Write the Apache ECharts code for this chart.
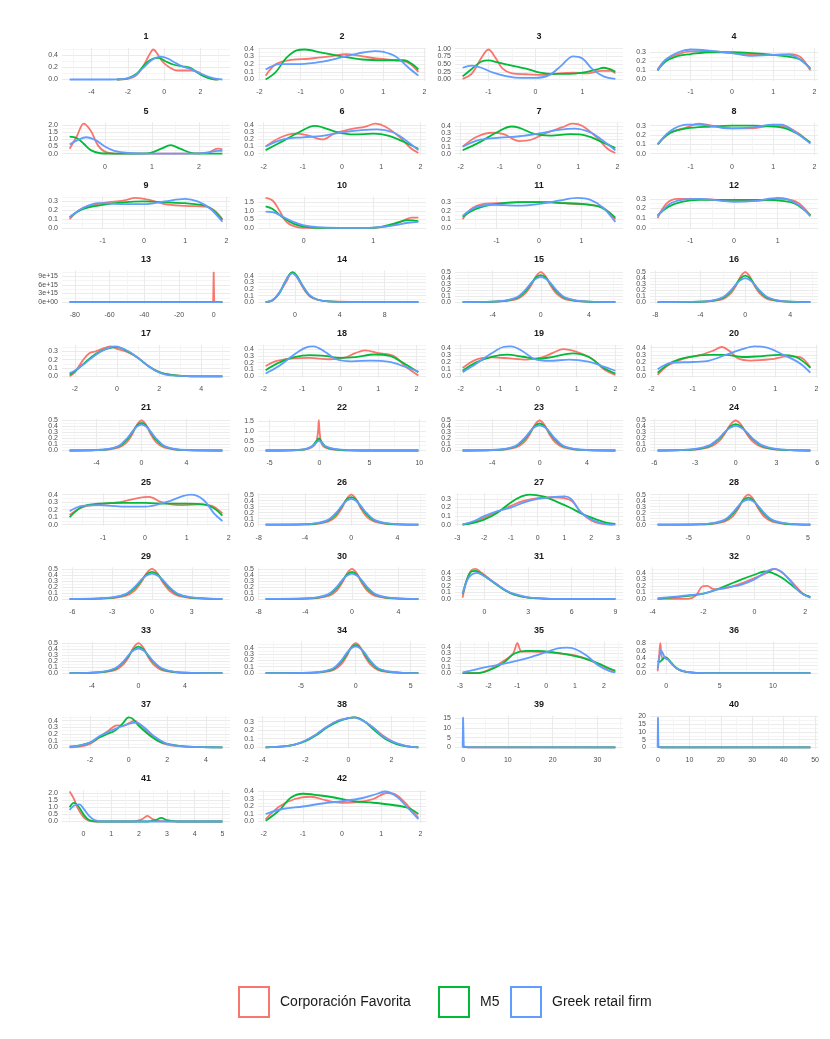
<!DOCTYPE html>
<html>
<head>
<meta charset="utf-8">
<script src="https://cdn.jsdelivr.net/npm/echarts@6/dist/echarts.min.js"></script>
<style>
html, body { margin: 0; background: #fff; }
#chart { width: 830px; height: 1039px; }
</style>
</head>
<body>
<div id="chart"></div>
<script>
const seriesNames = ['Corporación Favorita', 'M5', 'Greek retail firm']
const seriesColors = ['#F8766D', '#00BA38', '#619CFF']

const panelIds = ['1', '2', '3', '4', '5', '6', '7', '8', '9', '10', '11', '12', '13', '14',
  '15', '16', '17', '18', '19', '20', '21', '22', '23', '24', '25', '26', '27', '28',
  '29', '30', '31', '32', '33', '34', '35', '36', '37', '38', '39', '40', '41', '42']

const xLabels = [
  ['-4', '-2', '0', '2'], ['-2', '-1', '0', '1', '2'], ['-1', '0', '1'], ['-1', '0', '1', '2'],
  ['0', '1', '2'], ['-2', '-1', '0', '1', '2'], ['-2', '-1', '0', '1', '2'], ['-1', '0', '1', '2'],
  ['-1', '0', '1', '2'], ['0', '1'], ['-1', '0', '1'], ['-1', '0', '1'],
  ['-80', '-60', '-40', '-20', '0'], ['0', '4', '8'], ['-4', '0', '4'], ['-8', '-4', '0', '4'],
  ['-2', '0', '2', '4'], ['-2', '-1', '0', '1', '2'], ['-2', '-1', '0', '1', '2'], ['-2', '-1', '0', '1', '2'],
  ['-4', '0', '4', '8'], ['-5', '0', '5', '10'], ['-4', '0', '4'], ['-6', '-3', '0', '3', '6'],
  ['-1', '0', '1', '2'], ['-8', '-4', '0', '4'], ['-3', '-2', '-1', '0', '1', '2', '3'], ['-5', '0', '5'],
  ['-6', '-3', '0', '3'], ['-8', '-4', '0', '4'], ['0', '3', '6', '9'], ['-4', '-2', '0', '2'],
  ['-4', '0', '4'], ['-5', '0', '5'], ['-3', '-2', '-1', '0', '1', '2'], ['0', '5', '10'],
  ['-2', '0', '2', '4'], ['-4', '-2', '0', '2'], ['0', '10', '20', '30'], ['0', '10', '20', '30', '40', '50'],
  ['0', '1', '2', '3', '4', '5'], ['-2', '-1', '0', '1', '2']
]

const y03 = ['0.0', '0.1', '0.2', '0.3']
const y04 = ['0.0', '0.1', '0.2', '0.3', '0.4']
const y05 = ['0.0', '0.1', '0.2', '0.3', '0.4', '0.5']
const yLabels = [
  ['0.0', '0.2', '0.4'], y04, ['0.00', '0.25', '0.50', '0.75', '1.00'], y03,
  ['0.0', '0.5', '1.0', '1.5', '2.0'], y04, y04, y03,
  y03, ['0.0', '0.5', '1.0', '1.5'], y03, y03,
  ['0e+00', '3e+15', '6e+15', '9e+15'], y04, y05, y05,
  y03, y04, y04, y04,
  y05, ['0.0', '0.5', '1.0', '1.5'], y05, y05,
  y04, y05, y03, y05,
  y05, y05, y04, y04,
  y05, y04, y04, ['0.0', '0.2', '0.4', '0.6', '0.8'],
  y04, y03, ['0', '5', '10', '15'], ['0', '5', '10', '15', '20'],
  ['0.0', '0.5', '1.0', '1.5', '2.0'], y04
]

// density curves, one entry per panel
const favorita = [
  [[-2.6, 0], [-2, 0.01], [-1.5, 0.08], [-1.1, 0.25], [-0.8, 0.42], [-0.6, 0.5], [-0.4, 0.44], [-0.1, 0.3], [0.3, 0.2], [0.7, 0.15], [1.1, 0.15], [1.5, 0.15], [1.9, 0.12], [2.2, 0.06], [2.6, 0.01], [2.9, 0]],
  [[-1.85, 0.05], [-1.6, 0.2], [-1.3, 0.25], [-0.8, 0.27], [-0.3, 0.3], [0.1, 0.33], [0.5, 0.3], [0.9, 0.27], [1.3, 0.25], [1.6, 0.22], [1.85, 0.1]],
  [[-1.55, 0.02], [-1.35, 0.2], [-1.15, 0.7], [-1.0, 0.97], [-0.85, 0.7], [-0.7, 0.35], [-0.5, 0.2], [-0.2, 0.17], [0.2, 0.15], [0.5, 0.2], [0.8, 0.22], [1.1, 0.2], [1.4, 0.28], [1.6, 0.28], [1.7, 0.2]],
  [[-1.8, 0.11], [-1.6, 0.22], [-1.3, 0.28], [-1, 0.31], [-0.5, 0.31], [0, 0.29], [0.5, 0.27], [1, 0.27], [1.4, 0.28], [1.65, 0.25], [1.9, 0.1]],
  [[-0.75, 0.35], [-0.6, 1.2], [-0.45, 2.1], [-0.3, 1.6], [-0.15, 0.6], [0, 0.15], [0.3, 0], [1, 0], [1.8, 0], [2.2, 0.1], [2.4, 0.35], [2.5, 0.3]],
  [[-1.95, 0.1], [-1.6, 0.22], [-1.2, 0.28], [-0.9, 0.26], [-0.5, 0.2], [-0.2, 0.28], [0.2, 0.34], [0.6, 0.38], [0.85, 0.42], [1.1, 0.38], [1.5, 0.22], [1.75, 0.08], [1.95, 0.01]],
  [[-1.95, 0.1], [-1.6, 0.24], [-1.2, 0.3], [-0.9, 0.28], [-0.5, 0.18], [-0.2, 0.2], [0.2, 0.3], [0.6, 0.38], [0.85, 0.43], [1.1, 0.4], [1.5, 0.22], [1.75, 0.07], [1.95, 0.01]],
  [[-1.8, 0.1], [-1.5, 0.22], [-1.1, 0.28], [-0.8, 0.32], [-0.5, 0.3], [0, 0.27], [0.5, 0.27], [1, 0.3], [1.3, 0.29], [1.6, 0.22], [1.9, 0.11]],
  [[-1.8, 0.1], [-1.5, 0.22], [-1, 0.28], [-0.5, 0.31], [-0.2, 0.34], [0.1, 0.32], [0.5, 0.27], [1, 0.25], [1.5, 0.24], [1.7, 0.2], [1.9, 0.1]],
  [[-0.55, 1.75], [-0.45, 1.6], [-0.35, 1.0], [-0.25, 0.35], [-0.1, 0.05], [0.1, 0], [0.8, 0], [1.1, 0.03], [1.3, 0.2], [1.45, 0.45], [1.55, 0.6], [1.65, 0.6]],
  [[-1.8, 0.1], [-1.6, 0.22], [-1.3, 0.28], [-0.8, 0.29], [-0.3, 0.3], [0.3, 0.3], [0.8, 0.28], [1.2, 0.27], [1.5, 0.24], [1.8, 0.1]],
  [[-1.75, 0.1], [-1.55, 0.25], [-1.3, 0.3], [-0.9, 0.3], [-0.4, 0.29], [0, 0.28], [0.5, 0.28], [1, 0.3], [1.3, 0.29], [1.5, 0.25], [1.75, 0.13]],
  [[-83, 0], [-0.3, 0], [0, 1.05e16], [0.3, 0], [5, 0]],
  [[-2.6, 0], [-2, 0.02], [-1.5, 0.12], [-1.1, 0.22], [-0.7, 0.33], [-0.3, 0.45], [0, 0.43], [0.4, 0.32], [1, 0.15], [1.6, 0.06], [2.5, 0.02], [4, 0.005], [6, 0], [11, 0]],
  [[-6.5, 0], [-4, 0.005], [-3, 0.015], [-2, 0.05], [-1.3, 0.14], [-0.8, 0.28], [-0.4, 0.43], [0, 0.5], [0.4, 0.43], [0.8, 0.28], [1.3, 0.14], [2, 0.05], [3, 0.015], [4, 0.005], [6.2, 0]],
  [[-7.8, 0], [-4, 0.005], [-3, 0.015], [-2, 0.05], [-1.3, 0.14], [-0.8, 0.28], [-0.4, 0.43], [0, 0.5], [0.4, 0.43], [0.8, 0.28], [1.3, 0.14], [2, 0.05], [3, 0.015], [4, 0.005], [5.8, 0]],
  [[-2.25, 0], [-2, 0.05], [-1.6, 0.2], [-1.3, 0.28], [-1, 0.3], [-0.6, 0.34], [-0.3, 0.36], [0, 0.33], [0.5, 0.29], [1, 0.22], [1.5, 0.12], [2, 0.05], [2.5, 0.02], [3.5, 0], [5, 0]],
  [[-1.95, 0.15], [-1.7, 0.22], [-1.3, 0.26], [-0.8, 0.27], [-0.3, 0.25], [0.1, 0.27], [0.4, 0.34], [0.65, 0.38], [1, 0.34], [1.4, 0.3], [1.7, 0.15], [2.05, 0.01]],
  [[-1.95, 0.12], [-1.6, 0.24], [-1.2, 0.27], [-0.8, 0.26], [-0.3, 0.24], [0.1, 0.27], [0.4, 0.34], [0.65, 0.39], [1, 0.35], [1.4, 0.25], [1.7, 0.1], [2.0, 0.02]],
  [[-1.85, 0.02], [-1.6, 0.15], [-1.2, 0.25], [-0.8, 0.3], [-0.5, 0.36], [-0.3, 0.41], [-0.1, 0.35], [0.1, 0.25], [0.4, 0.22], [0.9, 0.24], [1.3, 0.28], [1.6, 0.27], [1.85, 0.12]],
  [[-6.4, 0], [-4, 0.005], [-3, 0.015], [-2, 0.05], [-1.3, 0.14], [-0.8, 0.28], [-0.4, 0.43], [0, 0.5], [0.4, 0.43], [0.8, 0.28], [1.3, 0.14], [2, 0.05], [3, 0.015], [4, 0.005], [7.2, 0]],
  [[-5.4, 0], [-3, 0.01], [-1.5, 0.05], [-0.8, 0.15], [-0.35, 0.4], [-0.15, 1.0], [-0.08, 1.55], [0, 1.0], [0.2, 0.35], [0.6, 0.15], [1.5, 0.05], [3, 0.01], [6, 0], [9.9, 0]],
  [[-6.5, 0], [-4, 0.005], [-3, 0.015], [-2, 0.05], [-1.3, 0.14], [-0.8, 0.28], [-0.4, 0.43], [0, 0.5], [0.4, 0.43], [0.8, 0.28], [1.3, 0.14], [2, 0.05], [3, 0.015], [4, 0.005], [6.4, 0]],
  [[-5.75, 0], [-4, 0.005], [-3, 0.015], [-2, 0.05], [-1.3, 0.14], [-0.8, 0.28], [-0.4, 0.43], [0, 0.5], [0.4, 0.43], [0.8, 0.28], [1.3, 0.14], [2, 0.05], [3, 0.015], [4, 0.005], [5.5, 0]],
  [[-1.8, 0.13], [-1.5, 0.23], [-1.1, 0.27], [-0.6, 0.3], [-0.2, 0.35], [0.1, 0.37], [0.4, 0.3], [0.8, 0.26], [1.3, 0.27], [1.6, 0.25], [1.85, 0.15]],
  [[-7.4, 0], [-4, 0.005], [-3, 0.015], [-2, 0.05], [-1.3, 0.14], [-0.8, 0.28], [-0.4, 0.43], [0, 0.5], [0.4, 0.43], [0.8, 0.28], [1.3, 0.14], [2, 0.05], [3, 0.015], [4, 0.005], [5.8, 0]],
  [[-2.8, 0], [-2.4, 0.03], [-2, 0.08], [-1.5, 0.15], [-1, 0.22], [-0.5, 0.28], [0, 0.31], [0.5, 0.32], [1, 0.31], [1.3, 0.27], [1.6, 0.15], [2, 0.05], [2.4, 0.01], [2.8, 0]],
  [[-7.6, 0], [-4, 0.005], [-3, 0.015], [-2, 0.05], [-1.3, 0.14], [-0.8, 0.28], [-0.4, 0.43], [0, 0.5], [0.4, 0.43], [0.8, 0.28], [1.3, 0.14], [2, 0.05], [3, 0.015], [4, 0.005], [5.2, 0]],
  [[-6.2, 0], [-4, 0.005], [-3, 0.015], [-2, 0.05], [-1.3, 0.14], [-0.8, 0.28], [-0.4, 0.43], [0, 0.5], [0.4, 0.43], [0.8, 0.28], [1.3, 0.14], [2, 0.05], [3, 0.015], [4, 0.005], [5.3, 0]],
  [[-7.4, 0], [-4, 0.005], [-3, 0.015], [-2, 0.05], [-1.3, 0.14], [-0.8, 0.28], [-0.4, 0.43], [0, 0.5], [0.4, 0.43], [0.8, 0.28], [1.3, 0.14], [2, 0.05], [3, 0.015], [4, 0.005], [5.7, 0]],
  [[-1.5, 0.02], [-1.2, 0.3], [-0.9, 0.44], [-0.6, 0.46], [-0.2, 0.4], [0.5, 0.28], [1, 0.2], [1.5, 0.12], [2, 0.07], [3, 0.02], [4, 0.005], [5, 0], [9, 0]],
  [[-3.8, 0], [-2.6, 0], [-2.3, 0.05], [-2.05, 0.19], [-1.85, 0.2], [-1.6, 0.15], [-1.2, 0.16], [-0.8, 0.2], [-0.3, 0.27], [0.2, 0.35], [0.5, 0.4], [0.8, 0.46], [1.1, 0.4], [1.5, 0.25], [1.9, 0.08], [2.2, 0.02]],
  [[-5.9, 0], [-4, 0.005], [-3, 0.015], [-2, 0.05], [-1.3, 0.14], [-0.8, 0.28], [-0.4, 0.43], [0, 0.5], [0.4, 0.43], [0.8, 0.28], [1.3, 0.14], [2, 0.05], [3, 0.015], [4, 0.005], [7.2, 0]],
  [[-8.2, 0], [-4, 0.005], [-3, 0.015], [-2, 0.05], [-1.3, 0.14], [-0.8, 0.27], [-0.4, 0.41], [0, 0.47], [0.4, 0.41], [0.8, 0.27], [1.3, 0.14], [2, 0.05], [3, 0.015], [4, 0.005], [5.7, 0]],
  [[-2.9, 0], [-2.4, 0], [-2, 0.05], [-1.5, 0.18], [-1.15, 0.3], [-1.0, 0.46], [-0.85, 0.33], [-0.5, 0.33], [0, 0.32], [0.5, 0.3], [1, 0.27], [1.5, 0.2], [2, 0.1], [2.4, 0.02]],
  [[-0.8, 0.05], [-0.65, 0.5], [-0.55, 0.8], [-0.45, 0.5], [-0.3, 0.38], [-0.1, 0.42], [0.1, 0.4], [0.5, 0.25], [1, 0.12], [1.5, 0.05], [2.5, 0.01], [4, 0], [13.5, 0]],
  [[-3.05, 0], [-2.5, 0.01], [-2, 0.05], [-1.5, 0.15], [-1, 0.26], [-0.6, 0.33], [-0.3, 0.32], [0, 0.36], [0.3, 0.4], [0.6, 0.33], [1, 0.22], [1.5, 0.1], [2, 0.04], [3, 0.01], [4.85, 0]],
  [[-3.85, 0], [-3, 0.01], [-2.5, 0.03], [-2, 0.08], [-1.5, 0.15], [-1, 0.24], [-0.5, 0.31], [0, 0.34], [0.3, 0.35], [0.7, 0.31], [1.2, 0.22], [1.7, 0.12], [2.2, 0.05], [2.7, 0.015], [3.25, 0]],
  [[-0.1, 0.3], [0, 1.0], [0.2, 0.3], [1, 0], [34, 0]],
  [[-0.1, 0.3], [0, 1.0], [0.3, 0.2], [1, 0], [48.5, 0]],
  [[-0.5, 2.1], [-0.35, 1.6], [-0.2, 0.9], [0, 0.3], [0.2, 0.05], [0.5, 0], [1.8, 0], [2.1, 0.15], [2.3, 0.4], [2.5, 0.15], [2.8, 0.02], [3.5, 0], [5, 0]],
  [[-1.95, 0.03], [-1.6, 0.2], [-1.2, 0.3], [-0.8, 0.33], [-0.4, 0.28], [0, 0.25], [0.4, 0.26], [0.8, 0.3], [1.15, 0.38], [1.4, 0.35], [1.7, 0.2], [1.95, 0.05]]
]

const m5 = [
  [[-2.6, 0], [-2, 0.02], [-1.5, 0.1], [-1, 0.27], [-0.6, 0.35], [-0.3, 0.36], [0.1, 0.3], [0.5, 0.25], [1.0, 0.22], [1.4, 0.2], [1.8, 0.12], [2.2, 0.05], [2.6, 0.01], [3.0, 0]],
  [[-1.85, 0.0], [-1.6, 0.1], [-1.35, 0.28], [-1.1, 0.38], [-0.9, 0.39], [-0.5, 0.35], [0, 0.3], [0.5, 0.26], [1.0, 0.25], [1.5, 0.25], [1.7, 0.2], [1.85, 0.13]],
  [[-1.55, 0.1], [-1.35, 0.35], [-1.15, 0.58], [-1.0, 0.62], [-0.8, 0.55], [-0.5, 0.45], [-0.2, 0.35], [0.1, 0.22], [0.4, 0.18], [0.7, 0.18], [1.0, 0.22], [1.3, 0.32], [1.45, 0.38], [1.6, 0.33], [1.7, 0.25]],
  [[-1.8, 0.1], [-1.6, 0.2], [-1.3, 0.26], [-1, 0.28], [-0.5, 0.3], [0, 0.3], [0.5, 0.29], [1, 0.27], [1.4, 0.25], [1.65, 0.22], [1.9, 0.12]],
  [[-0.75, 1.2], [-0.6, 1.1], [-0.45, 0.7], [-0.3, 0.25], [-0.1, 0.03], [0.3, 0], [0.9, 0.02], [1.2, 0.35], [1.4, 0.6], [1.6, 0.35], [1.9, 0.02], [2.2, 0], [2.5, 0]],
  [[-1.95, 0.05], [-1.5, 0.18], [-1.1, 0.3], [-0.7, 0.39], [-0.5, 0.37], [-0.1, 0.3], [0.3, 0.27], [0.8, 0.28], [1.2, 0.25], [1.6, 0.16], [1.95, 0.07]],
  [[-1.95, 0.05], [-1.5, 0.17], [-1.1, 0.3], [-0.7, 0.39], [-0.5, 0.37], [-0.1, 0.28], [0.3, 0.26], [0.8, 0.28], [1.2, 0.26], [1.6, 0.17], [1.95, 0.08]],
  [[-1.8, 0.1], [-1.5, 0.22], [-1.1, 0.27], [-0.5, 0.29], [0, 0.3], [0.5, 0.3], [1, 0.29], [1.3, 0.27], [1.6, 0.21], [1.9, 0.12]],
  [[-1.8, 0.12], [-1.5, 0.21], [-1, 0.26], [-0.5, 0.29], [0, 0.3], [0.5, 0.29], [1, 0.28], [1.5, 0.25], [1.7, 0.19], [1.9, 0.09]],
  [[-0.55, 1.25], [-0.45, 1.1], [-0.3, 0.6], [-0.15, 0.25], [0, 0.08], [0.2, 0], [0.9, 0], [1.1, 0.05], [1.3, 0.25], [1.5, 0.45], [1.65, 0.4]],
  [[-1.8, 0.13], [-1.5, 0.22], [-1, 0.28], [-0.5, 0.3], [0, 0.3], [0.5, 0.29], [1, 0.28], [1.4, 0.25], [1.6, 0.2], [1.8, 0.12]],
  [[-1.75, 0.13], [-1.5, 0.22], [-1.2, 0.27], [-0.8, 0.29], [-0.3, 0.29], [0.2, 0.29], [0.7, 0.29], [1.1, 0.28], [1.4, 0.25], [1.75, 0.13]],
  [[-83, 0], [5, 0]],
  [[-2.6, 0], [-2, 0.03], [-1.4, 0.13], [-0.9, 0.3], [-0.5, 0.42], [-0.2, 0.46], [0.2, 0.4], [0.7, 0.25], [1.3, 0.1], [2, 0.04], [3, 0.01], [5, 0], [11, 0]],
  [[-6.5, 0], [-4, 0.006], [-3, 0.02], [-2, 0.07], [-1.3, 0.18], [-0.8, 0.31], [-0.4, 0.41], [0, 0.45], [0.4, 0.41], [0.8, 0.31], [1.3, 0.18], [2, 0.07], [3, 0.02], [4, 0.006], [6.2, 0]],
  [[-7.8, 0], [-4, 0.006], [-3, 0.02], [-2, 0.07], [-1.3, 0.18], [-0.8, 0.3], [-0.4, 0.4], [0, 0.44], [0.4, 0.4], [0.8, 0.3], [1.3, 0.18], [2, 0.07], [3, 0.02], [4, 0.006], [5.8, 0]],
  [[-2.25, 0.02], [-2, 0.06], [-1.5, 0.17], [-1, 0.27], [-0.5, 0.33], [0, 0.35], [0.5, 0.3], [1, 0.22], [1.5, 0.12], [2, 0.05], [2.5, 0.02], [3.5, 0], [5, 0]],
  [[-1.95, 0.09], [-1.6, 0.2], [-1.2, 0.28], [-0.8, 0.31], [-0.4, 0.3], [0, 0.27], [0.4, 0.28], [0.9, 0.32], [1.3, 0.3], [1.7, 0.18], [2.05, 0.06]],
  [[-1.95, 0.08], [-1.6, 0.2], [-1.2, 0.28], [-0.8, 0.31], [-0.4, 0.28], [0, 0.25], [0.4, 0.28], [0.9, 0.33], [1.3, 0.28], [1.7, 0.12], [2.0, 0.04]],
  [[-1.85, 0.05], [-1.5, 0.2], [-1.1, 0.27], [-0.6, 0.3], [-0.2, 0.3], [0.2, 0.27], [0.6, 0.28], [1.1, 0.3], [1.5, 0.27], [1.85, 0.12]],
  [[-6.4, 0], [-4, 0.006], [-3, 0.02], [-2, 0.07], [-1.3, 0.18], [-0.8, 0.31], [-0.4, 0.42], [0, 0.46], [0.4, 0.42], [0.8, 0.31], [1.3, 0.18], [2, 0.07], [3, 0.02], [4, 0.006], [7.2, 0]],
  [[-5.4, 0], [-3, 0.01], [-1.5, 0.06], [-0.8, 0.2], [-0.3, 0.5], [-0.05, 0.62], [0.2, 0.45], [0.6, 0.2], [1.5, 0.06], [3, 0.01], [6, 0], [9.9, 0]],
  [[-6.5, 0], [-4, 0.006], [-3, 0.02], [-2, 0.07], [-1.3, 0.18], [-0.8, 0.31], [-0.4, 0.41], [0, 0.45], [0.4, 0.41], [0.8, 0.31], [1.3, 0.18], [2, 0.07], [3, 0.02], [4, 0.006], [6.4, 0]],
  [[-5.75, 0], [-4, 0.006], [-3, 0.02], [-2, 0.07], [-1.3, 0.18], [-0.8, 0.3], [-0.4, 0.4], [0, 0.44], [0.4, 0.4], [0.8, 0.3], [1.3, 0.18], [2, 0.07], [3, 0.02], [4, 0.006], [5.5, 0]],
  [[-1.8, 0.1], [-1.5, 0.24], [-1.1, 0.28], [-0.5, 0.29], [0, 0.29], [0.5, 0.28], [1, 0.28], [1.4, 0.27], [1.65, 0.22], [1.85, 0.12]],
  [[-7.4, 0], [-4, 0.006], [-3, 0.02], [-2, 0.07], [-1.3, 0.18], [-0.8, 0.31], [-0.4, 0.42], [0, 0.46], [0.4, 0.42], [0.8, 0.31], [1.3, 0.18], [2, 0.07], [3, 0.02], [4, 0.006], [5.8, 0]],
  [[-2.8, 0], [-2.4, 0.02], [-2, 0.06], [-1.5, 0.14], [-1, 0.26], [-0.6, 0.33], [-0.3, 0.35], [0.2, 0.33], [0.7, 0.27], [1.2, 0.2], [1.7, 0.12], [2.2, 0.06], [2.6, 0.02], [2.9, 0.01]],
  [[-7.6, 0], [-4, 0.006], [-3, 0.02], [-2, 0.07], [-1.3, 0.18], [-0.8, 0.31], [-0.4, 0.41], [0, 0.45], [0.4, 0.41], [0.8, 0.31], [1.3, 0.18], [2, 0.07], [3, 0.02], [4, 0.006], [5.2, 0]],
  [[-6.2, 0], [-4, 0.006], [-3, 0.02], [-2, 0.07], [-1.3, 0.18], [-0.8, 0.31], [-0.4, 0.41], [0, 0.45], [0.4, 0.41], [0.8, 0.31], [1.3, 0.18], [2, 0.07], [3, 0.02], [4, 0.006], [5.3, 0]],
  [[-7.4, 0], [-4, 0.006], [-3, 0.02], [-2, 0.07], [-1.3, 0.18], [-0.8, 0.31], [-0.4, 0.41], [0, 0.45], [0.4, 0.41], [0.8, 0.31], [1.3, 0.18], [2, 0.07], [3, 0.02], [4, 0.006], [5.7, 0]],
  [[-1.5, 0.07], [-1.2, 0.3], [-0.9, 0.42], [-0.6, 0.43], [-0.2, 0.38], [0.5, 0.27], [1, 0.19], [1.5, 0.12], [2, 0.07], [3, 0.02], [4, 0.005], [5, 0], [9, 0]],
  [[-3.8, 0], [-3, 0.03], [-2.5, 0.05], [-2, 0.08], [-1.5, 0.14], [-1, 0.22], [-0.5, 0.3], [0, 0.37], [0.4, 0.42], [0.7, 0.4], [1.1, 0.32], [1.5, 0.2], [1.9, 0.08], [2.2, 0.03]],
  [[-5.9, 0], [-4, 0.006], [-3, 0.02], [-2, 0.07], [-1.3, 0.18], [-0.8, 0.3], [-0.4, 0.4], [0, 0.44], [0.4, 0.4], [0.8, 0.3], [1.3, 0.18], [2, 0.07], [3, 0.02], [4, 0.006], [7.2, 0]],
  [[-8.2, 0], [-4, 0.006], [-3, 0.02], [-2, 0.07], [-1.3, 0.18], [-0.8, 0.3], [-0.4, 0.4], [0, 0.44], [0.4, 0.4], [0.8, 0.3], [1.3, 0.18], [2, 0.07], [3, 0.02], [4, 0.006], [5.7, 0]],
  [[-2.9, 0], [-2.4, 0], [-2, 0.04], [-1.5, 0.15], [-1.1, 0.3], [-0.7, 0.34], [-0.3, 0.34], [0.2, 0.32], [0.8, 0.28], [1.3, 0.23], [1.8, 0.15], [2.2, 0.07], [2.4, 0.04]],
  [[-0.8, 0.33], [-0.6, 0.3], [-0.4, 0.35], [-0.1, 0.42], [0.1, 0.4], [0.5, 0.27], [1, 0.13], [1.5, 0.06], [2.5, 0.01], [4, 0], [13.5, 0]],
  [[-3.05, 0.01], [-2.5, 0.03], [-2, 0.07], [-1.5, 0.15], [-1.1, 0.2], [-0.7, 0.25], [-0.3, 0.36], [0, 0.45], [0.2, 0.43], [0.5, 0.33], [1, 0.2], [1.5, 0.1], [2, 0.05], [3, 0.01], [4.85, 0]],
  [[-3.85, 0], [-3, 0.01], [-2.5, 0.03], [-2, 0.07], [-1.5, 0.14], [-1, 0.23], [-0.5, 0.3], [0, 0.34], [0.3, 0.35], [0.7, 0.31], [1.2, 0.2], [1.7, 0.1], [2.2, 0.04], [2.7, 0.01], [3.25, 0]],
  [[-0.1, 0.5], [0, 1.5], [0.2, 0.5], [0.6, 0.1], [1, 0], [34, 0]],
  [[-0.1, 0.5], [0, 1.5], [0.3, 0.3], [1, 0], [48.5, 0]],
  [[-0.5, 1.0], [-0.35, 1.3], [-0.2, 1.1], [0, 0.5], [0.2, 0.1], [0.5, 0], [2.3, 0], [2.6, 0.1], [2.8, 0.25], [3.0, 0.1], [3.4, 0], [5, 0]],
  [[-1.95, 0.01], [-1.6, 0.15], [-1.3, 0.32], [-1, 0.37], [-0.6, 0.35], [-0.2, 0.32], [0.3, 0.27], [0.8, 0.25], [1.3, 0.22], [1.7, 0.18], [1.95, 0.1]]
]

const greek = [
  [[-5.2, 0], [-3, 0], [-2.2, 0.01], [-1.7, 0.05], [-1.2, 0.18], [-0.7, 0.32], [-0.2, 0.38], [0.2, 0.35], [0.6, 0.28], [1.0, 0.22], [1.5, 0.17], [2.0, 0.1], [2.5, 0.04], [2.9, 0.01], [3.2, 0]],
  [[-1.85, 0.13], [-1.5, 0.2], [-1, 0.2], [-0.5, 0.23], [0, 0.29], [0.4, 0.34], [0.8, 0.37], [1.0, 0.36], [1.3, 0.3], [1.6, 0.16], [1.85, 0.05]],
  [[-1.55, 0.38], [-1.35, 0.45], [-1.15, 0.38], [-0.9, 0.22], [-0.6, 0.1], [-0.3, 0.05], [0, 0.05], [0.3, 0.15], [0.55, 0.45], [0.8, 0.75], [1.0, 0.68], [1.2, 0.35], [1.45, 0.1], [1.7, 0.02]],
  [[-1.8, 0.1], [-1.6, 0.22], [-1.3, 0.3], [-1, 0.33], [-0.6, 0.32], [0, 0.29], [0.5, 0.26], [1, 0.27], [1.4, 0.27], [1.65, 0.22], [1.9, 0.12]],
  [[-0.75, 0.65], [-0.55, 1.0], [-0.4, 1.15], [-0.2, 0.95], [0, 0.5], [0.2, 0.2], [0.5, 0.05], [1, 0], [1.8, 0], [2.2, 0.08], [2.4, 0.2], [2.5, 0.2]],
  [[-1.95, 0.1], [-1.5, 0.2], [-1, 0.23], [-0.5, 0.25], [0, 0.3], [0.5, 0.33], [0.9, 0.34], [1.3, 0.3], [1.6, 0.2], [1.95, 0.05]],
  [[-1.95, 0.1], [-1.5, 0.2], [-1, 0.23], [-0.5, 0.25], [0, 0.29], [0.5, 0.34], [0.9, 0.36], [1.3, 0.31], [1.6, 0.2], [1.95, 0.05]],
  [[-1.8, 0.1], [-1.5, 0.24], [-1.1, 0.31], [-0.8, 0.31], [-0.3, 0.28], [0, 0.27], [0.5, 0.28], [1, 0.31], [1.2, 0.31], [1.5, 0.24], [1.9, 0.11]],
  [[-1.8, 0.12], [-1.5, 0.22], [-1.1, 0.28], [-0.5, 0.27], [0, 0.27], [0.5, 0.3], [1, 0.33], [1.3, 0.3], [1.6, 0.22], [1.9, 0.07]],
  [[-0.55, 0.95], [-0.45, 0.92], [-0.3, 0.65], [-0.15, 0.35], [0, 0.15], [0.2, 0.04], [0.5, 0], [0.9, 0], [1.1, 0.05], [1.3, 0.15], [1.5, 0.3], [1.65, 0.35]],
  [[-1.8, 0.14], [-1.5, 0.24], [-1.1, 0.27], [-0.5, 0.26], [0, 0.28], [0.5, 0.32], [0.9, 0.35], [1.2, 0.33], [1.5, 0.24], [1.8, 0.07]],
  [[-1.75, 0.12], [-1.5, 0.24], [-1.2, 0.29], [-0.8, 0.3], [-0.3, 0.28], [0, 0.27], [0.5, 0.28], [1, 0.31], [1.2, 0.3], [1.5, 0.23], [1.75, 0.12]],
  [[-83, 0], [5, 0]],
  [[-2.6, 0], [-2, 0.03], [-1.4, 0.14], [-0.9, 0.3], [-0.5, 0.41], [-0.2, 0.44], [0.2, 0.38], [0.7, 0.25], [1.3, 0.11], [2, 0.04], [3, 0.01], [5, 0], [11, 0]],
  [[-6.5, 0], [-4, 0.008], [-3, 0.025], [-2, 0.08], [-1.3, 0.2], [-0.8, 0.32], [-0.4, 0.39], [0, 0.42], [0.4, 0.39], [0.8, 0.32], [1.3, 0.2], [2, 0.08], [3, 0.025], [4, 0.008], [6.2, 0]],
  [[-7.8, 0], [-4, 0.008], [-3, 0.025], [-2, 0.08], [-1.3, 0.19], [-0.8, 0.3], [-0.4, 0.37], [0, 0.4], [0.4, 0.37], [0.8, 0.3], [1.3, 0.19], [2, 0.08], [3, 0.025], [4, 0.008], [5.8, 0]],
  [[-2.25, 0.04], [-2, 0.07], [-1.5, 0.16], [-1, 0.26], [-0.5, 0.33], [-0.1, 0.36], [0.3, 0.33], [0.8, 0.26], [1.3, 0.16], [1.8, 0.07], [2.3, 0.02], [3, 0.005], [5, 0]],
  [[-1.95, 0.04], [-1.6, 0.15], [-1.2, 0.32], [-0.9, 0.42], [-0.7, 0.44], [-0.4, 0.36], [-0.1, 0.25], [0.3, 0.22], [0.8, 0.23], [1.3, 0.21], [1.7, 0.14], [2.05, 0.07]],
  [[-1.95, 0.06], [-1.6, 0.18], [-1.2, 0.33], [-0.9, 0.42], [-0.7, 0.43], [-0.4, 0.36], [-0.1, 0.25], [0.3, 0.22], [0.8, 0.24], [1.3, 0.21], [1.7, 0.14], [2.0, 0.08]],
  [[-1.85, 0.1], [-1.5, 0.19], [-1, 0.2], [-0.6, 0.22], [-0.2, 0.3], [0.2, 0.38], [0.5, 0.42], [0.8, 0.4], [1.2, 0.3], [1.6, 0.18], [1.85, 0.05]],
  [[-6.4, 0], [-4, 0.008], [-3, 0.025], [-2, 0.08], [-1.3, 0.2], [-0.8, 0.32], [-0.4, 0.4], [0, 0.43], [0.4, 0.4], [0.8, 0.32], [1.3, 0.2], [2, 0.08], [3, 0.025], [4, 0.008], [7.2, 0]],
  [[-5.4, 0], [-3, 0.01], [-1.5, 0.07], [-0.8, 0.2], [-0.3, 0.42], [-0.05, 0.5], [0.2, 0.42], [0.6, 0.22], [1.5, 0.08], [3, 0.02], [6, 0], [9.9, 0]],
  [[-6.5, 0], [-4, 0.008], [-3, 0.025], [-2, 0.08], [-1.3, 0.2], [-0.8, 0.32], [-0.4, 0.39], [0, 0.42], [0.4, 0.39], [0.8, 0.32], [1.3, 0.2], [2, 0.08], [3, 0.025], [4, 0.008], [6.4, 0]],
  [[-5.75, 0], [-4, 0.008], [-3, 0.025], [-2, 0.08], [-1.3, 0.19], [-0.8, 0.31], [-0.4, 0.38], [0, 0.41], [0.4, 0.38], [0.8, 0.31], [1.3, 0.19], [2, 0.08], [3, 0.025], [4, 0.008], [5.5, 0]],
  [[-1.8, 0.18], [-1.5, 0.25], [-1.1, 0.26], [-0.5, 0.24], [0, 0.24], [0.5, 0.3], [0.9, 0.38], [1.1, 0.4], [1.4, 0.33], [1.65, 0.15], [1.85, 0.05]],
  [[-7.4, 0], [-4, 0.008], [-3, 0.025], [-2, 0.08], [-1.3, 0.2], [-0.8, 0.32], [-0.4, 0.4], [0, 0.43], [0.4, 0.4], [0.8, 0.32], [1.3, 0.2], [2, 0.08], [3, 0.025], [4, 0.008], [5.8, 0]],
  [[-2.8, 0.005], [-2.4, 0.04], [-2, 0.1], [-1.5, 0.16], [-1, 0.2], [-0.5, 0.26], [0, 0.3], [0.5, 0.32], [1, 0.33], [1.25, 0.3], [1.6, 0.15], [2, 0.06], [2.5, 0.01], [2.9, 0]],
  [[-7.6, 0], [-4, 0.008], [-3, 0.025], [-2, 0.08], [-1.3, 0.2], [-0.8, 0.32], [-0.4, 0.39], [0, 0.42], [0.4, 0.39], [0.8, 0.32], [1.3, 0.2], [2, 0.08], [3, 0.025], [4, 0.008], [5.2, 0]],
  [[-6.2, 0], [-4, 0.008], [-3, 0.025], [-2, 0.08], [-1.3, 0.2], [-0.8, 0.32], [-0.4, 0.39], [0, 0.42], [0.4, 0.39], [0.8, 0.32], [1.3, 0.2], [2, 0.08], [3, 0.025], [4, 0.008], [5.3, 0]],
  [[-7.4, 0], [-4, 0.008], [-3, 0.025], [-2, 0.08], [-1.3, 0.2], [-0.8, 0.32], [-0.4, 0.39], [0, 0.42], [0.4, 0.39], [0.8, 0.32], [1.3, 0.2], [2, 0.08], [3, 0.025], [4, 0.008], [5.7, 0]],
  [[-1.5, 0.08], [-1.2, 0.28], [-0.9, 0.37], [-0.5, 0.4], [-0.1, 0.36], [0.5, 0.28], [1, 0.2], [1.5, 0.13], [2, 0.08], [3, 0.025], [4, 0.008], [5, 0], [9, 0]],
  [[-3.8, 0.01], [-3, 0.04], [-2.5, 0.06], [-2, 0.08], [-1.5, 0.14], [-1, 0.18], [-0.5, 0.22], [0, 0.3], [0.4, 0.4], [0.75, 0.46], [1.05, 0.42], [1.4, 0.28], [1.8, 0.1], [2.2, 0.02]],
  [[-5.9, 0], [-4, 0.008], [-3, 0.025], [-2, 0.08], [-1.3, 0.19], [-0.8, 0.31], [-0.4, 0.38], [0, 0.41], [0.4, 0.38], [0.8, 0.31], [1.3, 0.19], [2, 0.08], [3, 0.025], [4, 0.008], [7.2, 0]],
  [[-8.2, 0], [-4, 0.008], [-3, 0.025], [-2, 0.08], [-1.3, 0.2], [-0.8, 0.32], [-0.4, 0.39], [0, 0.42], [0.4, 0.39], [0.8, 0.32], [1.3, 0.2], [2, 0.08], [3, 0.025], [4, 0.008], [5.7, 0]],
  [[-2.9, 0.01], [-2.5, 0.05], [-2, 0.1], [-1.5, 0.14], [-1, 0.19], [-0.5, 0.25], [0, 0.32], [0.4, 0.38], [0.7, 0.39], [1, 0.37], [1.4, 0.27], [1.8, 0.12], [2.2, 0.03], [2.4, 0.01]],
  [[-0.8, 0.12], [-0.65, 0.4], [-0.5, 0.6], [-0.35, 0.55], [-0.1, 0.4], [0.2, 0.35], [0.6, 0.22], [1, 0.12], [1.6, 0.05], [2.5, 0.01], [4, 0], [13.5, 0]],
  [[-3.05, 0.01], [-2.5, 0.03], [-2, 0.07], [-1.5, 0.17], [-1, 0.24], [-0.5, 0.3], [0, 0.35], [0.4, 0.37], [0.8, 0.3], [1.3, 0.17], [2, 0.05], [3, 0.01], [4.85, 0]],
  [[-3.85, 0], [-3, 0.01], [-2.5, 0.03], [-2, 0.08], [-1.5, 0.15], [-1, 0.24], [-0.5, 0.31], [0, 0.34], [0.2, 0.35], [0.6, 0.32], [1.1, 0.24], [1.6, 0.13], [2.1, 0.06], [2.7, 0.015], [3.25, 0]],
  [[-0.1, 0], [0, 15.5], [0.15, 0.5], [0.5, 0.1], [1, 0], [34, 0]],
  [[-0.1, 0], [0, 19.5], [0.15, 0.5], [0.5, 0.05], [1, 0], [48.5, 0]],
  [[-0.5, 0.8], [-0.35, 1.1], [-0.15, 1.2], [0, 0.9], [0.2, 0.4], [0.4, 0.1], [0.7, 0], [5, 0]],
  [[-1.95, 0.1], [-1.5, 0.17], [-1, 0.2], [-0.5, 0.24], [0, 0.27], [0.5, 0.31], [0.9, 0.37], [1.1, 0.4], [1.4, 0.33], [1.7, 0.17], [1.95, 0.03]]
]

// spikes are drawn straight, everything else smoothed
const sharpPanels = ['13', '39', '40']

const colLeft = [62, 258, 455, 650]
const panelW = 168
const panelH = 33
const firstTitleY = 37
const rowStep = 74.2
const legendLeft = [238, 438, 510]
const fontFamily = '"Liberation Sans", Arial, sans-serif'

function minorBreaks (major, lo, hi) {
  const out = []
  for (let k = 0; k < major.length - 1; k++) out.push((major[k] + major[k + 1]) / 2)
  if (major.length > 1) {
    const step = major[1] - major[0]
    out.push(major[0] - step / 2, major[major.length - 1] + step / 2)
  }
  return out.filter(v => v >= lo && v <= hi)
}

function labelStyle (values, labels, margin) {
  return {
    customValues: values,
    formatter: v => {
      const k = values.indexOf(v)
      return k >= 0 ? labels[k] : ''
    },
    fontSize: 7,
    color: '#4d4d4d',
    fontFamily,
    hideOverlap: false,
    showMinLabel: true,
    showMaxLabel: true,
    margin
  }
}

// axis carrying the major grid lines; labelValues may be a subset of values
function majorAxis (gridIndex, min, max, values, labelValues, labels, margin) {
  return {
    type: 'value',
    gridIndex,
    min,
    max,
    axisLine: { show: false },
    axisTick: { show: false, customValues: values },
    axisLabel: labelStyle(labelValues, labels, margin),
    splitLine: { show: true, lineStyle: { color: '#EBEBEB', width: 1.1 } }
  }
}

function minorAxis (gridIndex, min, max, values) {
  return {
    type: 'value',
    gridIndex,
    min,
    max,
    axisLine: { show: false },
    axisTick: { show: false, customValues: values },
    axisLabel: { show: false },
    splitLine: { show: values.length > 0, lineStyle: { color: '#F3F3F3', width: 0.8 } }
  }
}

// second label-only y axis, so crowded labels are split over two axes and none is dropped
function labelAxis (gridIndex, min, max, labelValues, labels) {
  return {
    type: 'value',
    gridIndex,
    min,
    max,
    position: 'left',
    offset: 0,
    axisLine: { show: false },
    axisTick: { show: false, customValues: labelValues },
    axisLabel: labelStyle(labelValues, labels, 4),
    splitLine: { show: false }
  }
}

const grid = []
const xAxis = []
const yAxis = []
const series = []
const graphic = []

panelIds.forEach((id, i) => {
  const col = i % 4
  const row = Math.floor(i / 4)
  const titleY = firstTitleY + rowStep * row
  const curves = [favorita[i], m5[i], greek[i]]
  const pts = curves.flat()
  const xs = pts.map(p => p[0])
  const ys = pts.map(p => p[1])
  const x0 = Math.min(...xs)
  const x1 = Math.max(...xs)
  const xPad = (x1 - x0) * 0.05
  const xMin = x0 - xPad
  const xMax = x1 + xPad
  const yPeak = Math.max(...ys)
  const yMin = -0.05 * yPeak
  const yMax = 1.05 * yPeak
  const xMaj = xLabels[i].map(Number)
  const yMaj = yLabels[i].map(Number)
  const yEven = yMaj.filter((v, k) => k % 2 === 0)
  const yOdd = yMaj.filter((v, k) => k % 2 === 1)

  grid.push({ left: colLeft[col], top: titleY + 11, width: panelW, height: panelH, outerBoundsMode: 'none' })
  graphic.push({
    type: 'text',
    x: colLeft[col] + panelW / 2,
    y: titleY,
    style: { text: id, align: 'center', verticalAlign: 'middle', font: 'bold 9px ' + fontFamily, fill: '#1a1a1a' }
  })

  xAxis.push(majorAxis(i, xMin, xMax, xMaj, xMaj, xLabels[i], 8))
  xAxis.push(minorAxis(i, xMin, xMax, minorBreaks(xMaj, xMin, xMax)))

  const yText = yLabels[i]
  yAxis.push(Object.assign(majorAxis(i, yMin, yMax, yMaj, yEven, yText.filter((v, k) => k % 2 === 0), 4), { position: 'left' }))
  yAxis.push(Object.assign(minorAxis(i, yMin, yMax, minorBreaks(yMaj, yMin, yMax)), { position: 'right' }))
  yAxis.push(labelAxis(i, yMin, yMax, yOdd, yText.filter((v, k) => k % 2 === 1)))

  const sharp = sharpPanels.includes(id)
  curves.forEach((c, k) => {
    series.push({
      type: 'line',
      name: seriesNames[k],
      xAxisIndex: 2 * i,
      yAxisIndex: 3 * i,
      data: c,
      showSymbol: false,
      symbol: 'none',
      smooth: sharp ? false : 0.35,
      lineStyle: { color: seriesColors[k], width: 1.8 },
      itemStyle: { color: seriesColors[k] },
      silent: true
    })
  })
})

// one legend block per key, placed like the ggplot legend row
const legend = seriesNames.map((name, k) => ({
  left: legendLeft[k],
  top: 986,
  padding: 0,
  icon: 'rect',
  itemWidth: 30,
  itemHeight: 30,
  selectedMode: false,
  textStyle: { fontSize: 14, color: '#1a1a1a', fontFamily, padding: [0, 0, 0, 6] },
  data: [{ name, itemStyle: { color: '#ffffff', borderColor: seriesColors[k], borderWidth: 2 } }]
}))

const chart = echarts.init(document.getElementById('chart'), null, { renderer: 'canvas' })
chart.setOption({
  animation: false,
  backgroundColor: '#fff',
  textStyle: { fontFamily },
  grid,
  xAxis,
  yAxis,
  series,
  graphic,
  legend
})
</script>
</body>
</html>
